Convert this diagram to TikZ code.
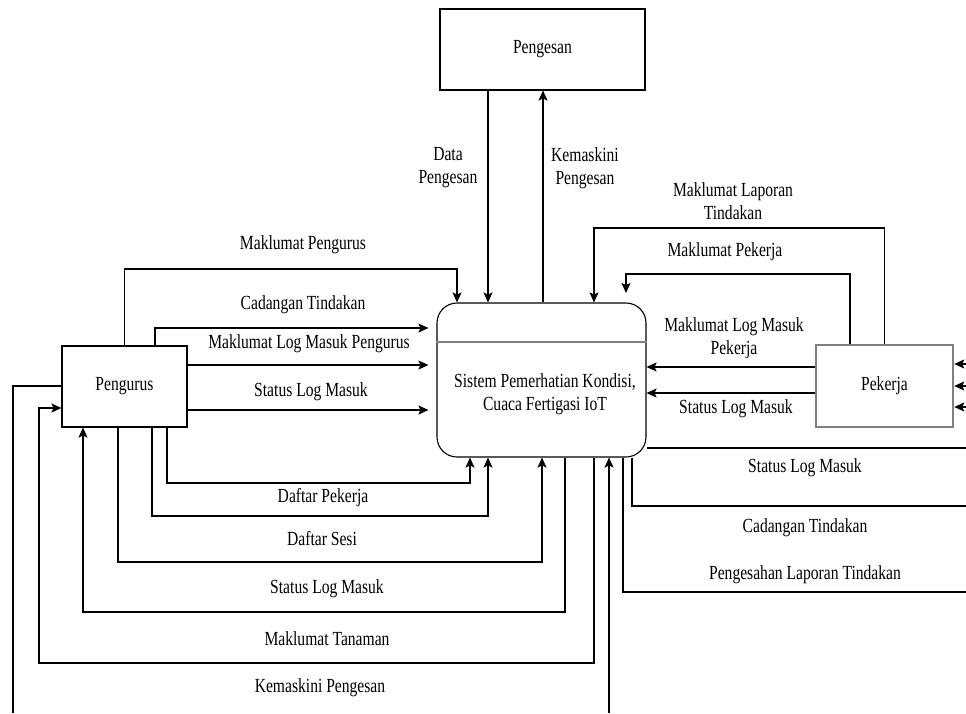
\documentclass[tikz,border=0pt]{standalone}
\usepackage{fontspec}
\setmainfont{Liberation Serif}[FakeStretch=0.78]
\usetikzlibrary{arrows.meta}

\begin{document}
\begin{tikzpicture}[x=1pt,y=-1pt,line width=1.1pt,>={Stealth[length=10pt,width=9pt,inset=2pt]},
    font=\fontsize{20}{23}\selectfont,
    ent/.style={rectangle,draw,inner sep=0pt},
    proc/.style={rectangle,draw,rounded corners=20pt,minimum width=209pt,minimum height=154pt},
    lb/.style={align=center,inner sep=0pt}]
            \useasboundingbox (0,0) rectangle (966,713);

            \draw (542.5,49.5) node[ent,minimum width=205pt,minimum height=81pt](pengesan){Pengesan};
            \draw (124.5,386.5) node[ent,minimum width=125pt,minimum height=81pt](pengurus){Pengurus};
            \draw (541.5,380) node[proc](sistem){};
            \draw (884.5,386) node[ent,draw=gray,line width=2.5pt,minimum width=137pt,minimum height=82pt](pekerja){Pekerja};
            \node[lb] (sistemtxt) at (545,394) {Sistem Pemerhatian Kondisi,\\Cuaca Fertigasi IoT};
            \draw[gray,line width=2pt] (sistem.west |- 0,342) -- (sistem.east |- 0,342);

            % Pengesan <-> sistem
            \begin{scope}[->]
                \draw (pengesan.south -| 488,0) -- (sistem.north -| 488,0);
                \draw (sistem.north -| 543,0) -- (pengesan.south -| 543,0);
            \end{scope}

            % Pengurus -> sistem
            \begin{scope}[->]
                \draw (pengurus.north) |- (457,269) -- (sistem.north -| 457,0);
                \draw[shorten >=8pt] (pengurus.north -| 155,0) |- (sistem.west |- 0,328);
                \draw[shorten >=8pt] (pengurus.east |- 0,365) -- (sistem.west |- 0,365);
                \draw[shorten >=8pt] (pengurus.east |- 0,410) -- (sistem.west |- 0,410);
                \draw (pengurus.south -| 167,0) |- (470,483) -- (sistem.south -| 470,0);
                \draw (pengurus.south -| 152,0) |- (488,516) -- (sistem.south -| 488,0);
                \draw (pengurus.south -| 118,0) |- (542,562) -- (sistem.south -| 542,0);
            \end{scope}

            % sistem -> Pengurus
            \begin{scope}[->]
                \draw (sistem.south -| 565,0) |- (83,612) -- (pengurus.south -| 83,0);
                \draw (sistem.south -| 594,0) |- (39,663) |- (pengurus.west |- 0,408);
            \end{scope}
            \coordinate (offleft) at (13,713);
            \draw (pengurus.west |- 0,386) -| (offleft);

            % Pekerja <-> sistem
            \coordinate (mpend) at (626,293);
            \begin{scope}[->]
                \draw (pekerja.north) |- (594,228) -- (sistem.north -| 594,0);
                \draw (pekerja.north -| 850,0) |- (626,274) -- (mpend);
                \draw (pekerja.west |- 0,367) -- (sistem.east |- 0,367);
                \draw (pekerja.west |- 0,393) -- (sistem.east |- 0,393);
            \end{scope}
            \foreach \y/\n in {364/a,386/b,407/c} {
                \coordinate (r\n) at (966,\y);
                \draw[->] (r\n) -- (pekerja.east |- r\n);
            }

            % sistem -> right edge
            \coordinate (offa) at (966,448);
            \coordinate (offb) at (966,506);
            \coordinate (offc) at (966,592);
            \coordinate (offd) at (609,713);
            \draw (sistem.east |- offa) -- (offa);
            \draw (sistem.south -| 632,0) |- (offb);
            \draw (sistem.south -| 623,0) |- (offc);
            \draw[->] (offd) -- (sistem.south -| offd);

            % labels
            \node[lb] (lmp)   at (303,245) {Maklumat Pengurus};
            \node[lb] (lct)   at (303,305) {Cadangan Tindakan};
            \node[lb] (lmlmp) at (309,344) {Maklumat Log Masuk Pengurus};
            \node[lb] (lslma) at (311,392) {Status Log Masuk};
            \node[lb] (ldp)   at (448,168) {Data\\Pengesan};
            \node[lb] (lkpa)  at (585,168) {Kemaskini\\Pengesan};
            \node[lb] (lmlt)  at (733,201) {Maklumat Laporan\\Tindakan};
            \node[lb] (lmpk)  at (725,252) {Maklumat Pekerja};
            \node[lb] (lmlmk) at (734,338) {Maklumat Log Masuk\\Pekerja};
            \node[lb] (lslmb) at (736,409) {Status Log Masuk};
            \node[lb] (lslmc) at (805,468) {Status Log Masuk};
            \node[lb] (lctb)  at (805,528) {Cadangan Tindakan};
            \node[lb] (lplt)  at (805,575) {Pengesahan Laporan Tindakan};
            \node[lb] (ldpk)  at (323,498) {Daftar Pekerja};
            \node[lb] (lds)   at (322,539) {Daftar Sesi};
            \node[lb] (lslmd) at (327,589) {Status Log Masuk};
            \node[lb] (lmt)   at (327,639) {Maklumat Tanaman};
            \node[lb] (lkpb)  at (320,688) {Kemaskini Pengesan};
        \end{tikzpicture}
\end{document}
